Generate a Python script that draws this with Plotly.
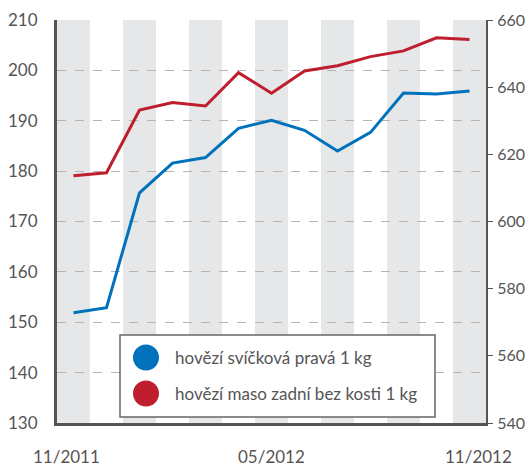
import plotly.graph_objects as go

# monthly prices, 11/2011 - 11/2012
months = ["11/2011", "12/2011", "01/2012", "02/2012", "03/2012", "04/2012", "05/2012",
          "06/2012", "07/2012", "08/2012", "09/2012", "10/2012", "11/2012"]
svickova = [151.9, 152.9, 175.7, 181.6, 182.7, 188.5, 190.1, 188.1, 184.0, 187.7, 195.5, 195.3, 195.9]
zadni = [613.6, 614.5, 633.2, 635.4, 634.4, 644.3, 638.2, 644.8, 646.4, 649.1, 650.8, 654.7, 654.2]
shown_ticks = ["11/2011", "05/2012", "11/2012"]
series_names = ["hovězí svíčková pravá 1 kg", "hovězí maso zadní bez kosti 1 kg"]

BLUE = "#0072bc"
RED = "#be1e2d"
AXIS = "#555555"
FONT = "Lato"

fig = go.Figure()
fig.add_trace(go.Scatter(x=months, y=svickova, mode="lines", name=series_names[0],
                         line=dict(color=BLUE, width=3), yaxis="y"))
fig.add_trace(go.Scatter(x=months, y=zadni, mode="lines", name=series_names[1],
                         line=dict(color=RED, width=3), yaxis="y2"))

# grey bands behind every other month
shapes = []
for i, m in enumerate(months):
    if i % 2 == 0:
        shapes.append(dict(type="rect", xref="x", yref="paper", x0=i - 0.5, x1=i + 0.5,
                           y0=0, y1=1, fillcolor="#e6e7e8", line_width=0, layer="below"))

# hand-drawn legend box with big round markers
def px_x(p):
    return (p - 57) / 429


def px_y(p):
    return (423 - p) / 403


shapes.append(dict(type="rect", xref="paper", yref="paper", x0=px_x(120), x1=px_x(435),
                   y0=px_y(417), y1=px_y(335), fillcolor="white",
                   line=dict(color="#666666", width=1.5)))
annotations = []
for name, color, cy in zip(series_names, [BLUE, RED], [357.5, 393.5]):
    shapes.append(dict(type="circle", xref="paper", yref="paper", xsizemode="pixel",
                       ysizemode="pixel", xanchor=px_x(146), yanchor=px_y(cy),
                       x0=-13, x1=13, y0=-13, y1=13, fillcolor=color, line_width=0))
    annotations.append(dict(text=name, xref="paper", yref="paper", x=px_x(173), y=px_y(cy),
                            xanchor="left", yanchor="middle", showarrow=False,
                            font=dict(family=FONT, size=17, color=AXIS)))

# x labels, nudged like the original
for m, shift in zip(shown_ticks, [-7, 0, 9]):
    annotations.append(dict(text=m, xref="x", yref="paper", x=m, y=0, yshift=-33,
                            xshift=shift, xanchor="center", yanchor="middle",
                            showarrow=False, font=dict(family=FONT, size=17, color=AXIS)))

fig.update_layout(
    width=526, height=468,
    margin=dict(l=57, r=40, t=20, b=45),
    plot_bgcolor="white", paper_bgcolor="white",
    showlegend=False,
    font=dict(family=FONT, size=17, color=AXIS),
    shapes=shapes,
    annotations=annotations,
    xaxis=dict(type="category", range=[-0.5, 12.5], showticklabels=False, ticks="",
               showgrid=False, showline=True, linecolor=AXIS, linewidth=3, zeroline=False,
               automargin=False),
    yaxis=dict(range=[130, 210], dtick=10, showgrid=True, gridcolor="#b5b5b5",
               griddash="dash", gridwidth=1, showline=True, linecolor=AXIS, linewidth=3,
               ticks="", zeroline=False, ticklabelstandoff=13, automargin=False),
    yaxis2=dict(range=[540, 660], dtick=20, overlaying="y", side="right", showgrid=False,
                showline=True, linecolor=AXIS, linewidth=2, ticks="outside", ticklen=5,
                tickcolor=AXIS, zeroline=False, automargin=False, ticklabelstandoff=1,
                tickfont=dict(size=16)),
)

fig.write_html("out.html", config={"displayModeBar": False},
               post_script="document.body.style.margin = '0';")
